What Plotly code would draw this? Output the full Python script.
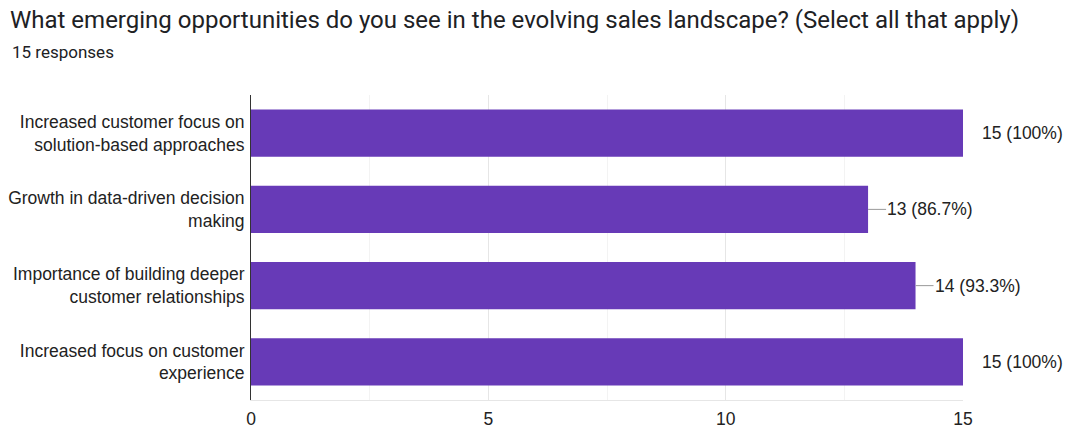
import plotly.graph_objects as go

# Survey results
categories = [
    "Increased customer focus on<br>solution-based approaches",
    "Growth in data-driven decision<br>making",
    "Importance of building deeper<br>customer relationships",
    "Increased focus on customer<br>experience",
]
counts = [15, 13, 14, 15]
total_responses = 15
x_ticks = [0, 5, 10, 15]

title_text = "What emerging opportunities do you see in the evolving sales landscape? (Select all that apply)"
subtitle_text = f"{total_responses} responses"

W, H = 1078, 430
M_L, M_R, M_T, M_B = 251, 115, 95, 30
plot_h = H - M_T - M_B

BAR_COLOR = "#673ab7"
TEXT_COLOR = "#222222"
LABEL_SIZE = 17.5

fig = go.Figure(
    go.Bar(
        x=counts,
        y=categories,
        orientation="h",
        marker=dict(color=BAR_COLOR, line=dict(width=0)),
        hoverinfo="skip",
    )
)

# Value labels with a short leader line from the bar end
for cat, v in zip(categories, counts):
    pct = v / total_responses * 100
    pct_txt = f"{pct:.0f}%" if abs(pct - round(pct)) < 1e-9 else f"{pct:.1f}%"
    fig.add_annotation(
        x=v,
        y=cat,
        xref="x",
        yref="y",
        text=f"{v} ({pct_txt})",
        showarrow=True,
        arrowhead=0,
        arrowwidth=1,
        arrowcolor="#999999" if v < max(counts) else "rgba(0,0,0,0)",
        ax=18,
        ay=0,
        xanchor="left",
        yanchor="middle",
        font=dict(family="Liberation Sans, Arial", size=LABEL_SIZE, color=TEXT_COLOR),
        borderpad=0,
    )

fig.add_annotation(
    x=0,
    y=1 + (M_T - 52) / plot_h,
    xref="paper",
    yref="paper",
    xshift=-(M_L - 10),
    text=subtitle_text,
    showarrow=False,
    xanchor="left",
    yanchor="middle",
    font=dict(family="Roboto, Arial", size=17, color="#202124"),
)

fig.update_layout(
    width=W,
    height=H,
    margin=dict(l=M_L, r=M_R, t=M_T, b=M_B, autoexpand=False),
    paper_bgcolor="white",
    plot_bgcolor="white",
    showlegend=False,
    bargap=0.38,
    title=dict(
        text=title_text,
        x=10 / W,
        xref="container",
        xanchor="left",
        y=1 - 20 / H,
        yref="container",
        yanchor="middle",
        font=dict(family="Roboto, Arial", size=24, color="#202124"),
    ),
    xaxis=dict(
        range=[0, 15],
        tickvals=x_ticks,
        ticktext=[str(t) for t in x_ticks],
        showgrid=True,
        gridcolor="#e6e6e6",
        gridwidth=1,
        minor=dict(dtick=2.5, showgrid=True, gridcolor="#f3f3f3", gridwidth=1),
        zeroline=False,
        showline=True,
        linecolor="#e6e6e6",
        linewidth=1,
        ticks="",
        ticklabelstandoff=3,
        automargin=False,
        tickfont=dict(family="Liberation Sans, Arial", size=LABEL_SIZE, color=TEXT_COLOR),
        fixedrange=True,
    ),
    yaxis=dict(
        autorange="reversed",
        showgrid=False,
        zeroline=False,
        showline=True,
        linecolor="#333333",
        linewidth=1,
        ticks="",
        ticklabelstandoff=2,
        automargin=False,
        tickfont=dict(family="Liberation Sans, Arial", size=LABEL_SIZE, color=TEXT_COLOR),
        fixedrange=True,
    ),
)

fig.write_html("out.html", config={"displayModeBar": False})
